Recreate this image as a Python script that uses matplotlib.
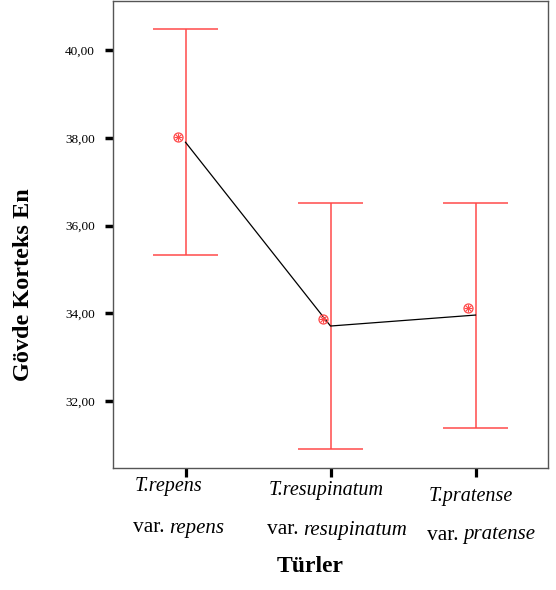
import matplotlib
matplotlib.use("Agg")
import matplotlib.pyplot as plt
from matplotlib.transforms import ScaledTranslation, blended_transform_factory

plt.rcParams['font.family'] = ['Liberation Serif', 'DejaVu Serif']

# Species groups
species = ["T.repens", "T.resupinatum", "T.pratense"]
varieties = ["repens", "resupinatum", "pratense"]

# Group means (markers), line values, and interval limits
means = [38.03, 33.87, 34.11]
line_values = [37.90, 33.71, 33.96]
upper = [40.49, 36.51, 36.51]
lower = [35.32, 30.90, 31.38]

yticks = [32, 34, 36, 38, 40]
ytick_labels = ["32,00", "34,00", "36,00", "38,00", "40,00"]

red = "#ff4a4a"
DPI = 100

fig = plt.figure(figsize=(5.56, 5.90), dpi=DPI)
ax = fig.add_axes([113 / 556, 1 - 467.7 / 590, 435 / 556, 466.7 / 590])

x = list(range(len(species)))

# Interval bars with caps
for xi, lo, hi in zip(x, lower, upper):
    ax.vlines(xi, lo, hi, color=red, lw=1.1)
    ax.hlines([lo, hi], xi - 0.227, xi + 0.227, color=red, lw=1.1)

# Connecting line
ax.plot(x, line_values, color="black", lw=0.9, zorder=3)

# Mean markers, drawn slightly to the left of each bar
shift = ax.transData + ScaledTranslation(-8 / DPI, 0, fig.dpi_scale_trans)
ax.plot(x, means, linestyle="none", marker="o", ms=6.5, mfc="none",
        mec=red, mew=0.9, transform=shift, zorder=4)
ax.plot(x, means, linestyle="none", marker="+", ms=5.5, mec=red,
        mew=0.8, transform=shift, zorder=4)
ax.plot(x, means, linestyle="none", marker="x", ms=4, mec=red,
        mew=0.8, transform=shift, zorder=4)

ax.set_xlim(-0.5, 2.5)
ax.set_ylim(30.48, 41.12)

ax.set_yticks(yticks)
ax.set_yticklabels(ytick_labels, fontsize=9.5)
ax.set_xticks(x)
ax.set_xticklabels([""] * len(x))
ax.tick_params(axis="y", direction="out", length=6, width=2.5, color="black", pad=7)
ax.tick_params(axis="x", direction="out", length=6.5, width=2.3, color="black")

for s in ax.spines.values():
    s.set_color("#555555")
    s.set_linewidth(1.0)

# Two-line category labels below the axis, left-aligned blocks
italic_fs = 14.5
roman_fs = 15.5
left_offsets_px = [-51, -62, -47]
line1_y = [487, 491, 497]
line2_y = [528, 530, 535]
base = blended_transform_factory(ax.transData, fig.transFigure)
for xi, sp, var, dx, y1, y2 in zip(x, species, varieties, left_offsets_px,
                                   line1_y, line2_y):
    tr = base + ScaledTranslation(dx / DPI, 0, fig.dpi_scale_trans)
    ax.text(xi, 1 - y1 / 590, sp, transform=tr, ha="left", va="center",
            fontsize=italic_fs, fontstyle="italic")
    t_var = ax.text(xi - 0.01, 1 - y2 / 590, "var.", transform=tr, ha="left",
                    va="center", fontsize=roman_fs)
    ax.annotate(var, xy=(1, 0), xycoords=t_var, xytext=(3.5, 0),
                textcoords="offset points", ha="left", va="bottom",
                fontsize=italic_fs + 0.5, fontstyle="italic",
                annotation_clip=False)

fig.text(310 / 556, 1 - 567 / 590, "Türler", ha="center", va="center",
         fontsize=17, fontweight="bold")
fig.text(24 / 556, 1 - 285 / 590, "Gövde Korteks En", ha="center", va="center",
         rotation=90, fontsize=17.5, fontweight="bold")

fig.savefig("out.png", dpi=DPI)
